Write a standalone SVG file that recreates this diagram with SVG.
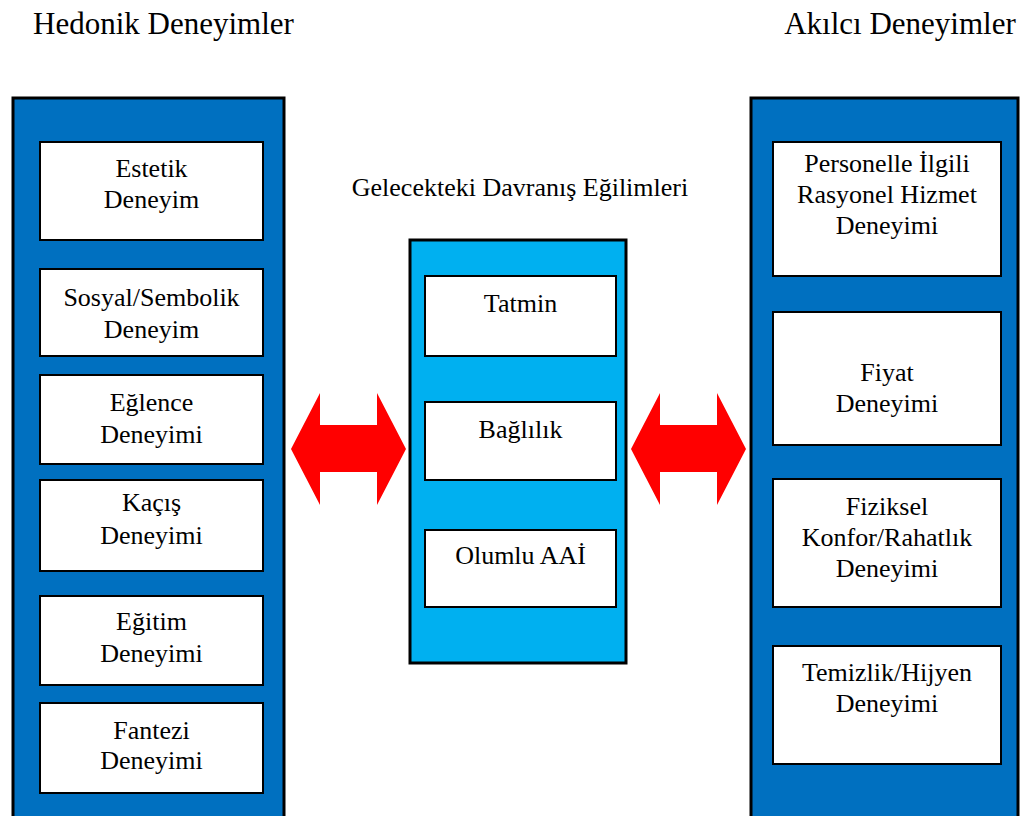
<svg xmlns="http://www.w3.org/2000/svg" width="1027" height="816" viewBox="0 0 1027 816">
  <style>
    text { font-family: 'Liberation Serif', 'DejaVu Serif', 'Times New Roman', serif; fill: #000; text-anchor: middle; }
    .title { font-size: 31px; }
    .label { font-size: 26px; }
    .panel-dark { fill: #0070C0; stroke: #000; stroke-width: 3; }
    .panel-light { fill: #00B0F0; stroke: #000; stroke-width: 3; }
    .box { fill: #fff; stroke: #000; stroke-width: 2; }
    .arrow { fill: #FF0000; stroke: none; }
  </style>
  <rect width="1027" height="816" fill="#fff"/>

  <!-- headings -->
  <text class="title" x="163.5" y="34">Hedonik Deneyimler</text>
  <text class="title" x="900" y="34">Akılcı Deneyimler</text>
  <text class="label" x="520" y="196">Gelecekteki Davranış Eğilimleri</text>

  <!-- hedonic column -->
  <g id="hedonik">
    <rect class="panel-dark" x="13" y="98" width="271" height="730"/>
    <g id="estetik">
      <rect class="box" x="40" y="142" width="223" height="98"/>
      <text class="label" x="151.5" y="177">Estetik</text>
      <text class="label" x="151.5" y="208">Deneyim</text>
    </g>
    <g id="sosyal">
      <rect class="box" x="40" y="269" width="223" height="87"/>
      <text class="label" x="151.5" y="306">Sosyal/Sembolik</text>
      <text class="label" x="151.5" y="338">Deneyim</text>
    </g>
    <g id="eglence">
      <rect class="box" x="40" y="375" width="223" height="89"/>
      <text class="label" x="151.5" y="411">Eğlence</text>
      <text class="label" x="151.5" y="443">Deneyimi</text>
    </g>
    <g id="kacis">
      <rect class="box" x="40" y="480" width="223" height="91"/>
      <text class="label" x="151.5" y="511">Kaçış</text>
      <text class="label" x="151.5" y="544">Deneyimi</text>
    </g>
    <g id="egitim">
      <rect class="box" x="40" y="596" width="223" height="89"/>
      <text class="label" x="151.5" y="630">Eğitim</text>
      <text class="label" x="151.5" y="662">Deneyimi</text>
    </g>
    <g id="fantezi">
      <rect class="box" x="40" y="703" width="223" height="90"/>
      <text class="label" x="151.5" y="739">Fantezi</text>
      <text class="label" x="151.5" y="769">Deneyimi</text>
    </g>
  </g>

  <!-- behavioural intentions column -->
  <g id="egilimler">
    <rect class="panel-light" x="410" y="240" width="216" height="423"/>
    <g id="tatmin">
      <rect class="box" x="425" y="276" width="191" height="80"/>
      <text class="label" x="520.5" y="312">Tatmin</text>
    </g>
    <g id="baglilik">
      <rect class="box" x="425" y="402" width="191" height="78"/>
      <text class="label" x="520.5" y="438">Bağlılık</text>
    </g>
    <g id="olumlu">
      <rect class="box" x="425" y="530" width="191" height="77"/>
      <text class="label" x="520.5" y="564">Olumlu AAİ</text>
    </g>
  </g>

  <!-- rational column -->
  <g id="akilci">
    <rect class="panel-dark" x="751" y="98" width="267" height="730"/>
    <g id="personel">
      <rect class="box" x="773" y="142" width="228" height="134"/>
      <text class="label" x="887" y="172">Personelle İlgili</text>
      <text class="label" x="887" y="203">Rasyonel Hizmet</text>
      <text class="label" x="887" y="234">Deneyimi</text>
    </g>
    <g id="fiyat">
      <rect class="box" x="773" y="312" width="228" height="133"/>
      <text class="label" x="887" y="381">Fiyat</text>
      <text class="label" x="887" y="412">Deneyimi</text>
    </g>
    <g id="fiziksel">
      <rect class="box" x="773" y="479" width="228" height="128"/>
      <text class="label" x="887" y="515">Fiziksel</text>
      <text class="label" x="887" y="546">Konfor/Rahatlık</text>
      <text class="label" x="887" y="577">Deneyimi</text>
    </g>
    <g id="temizlik">
      <rect class="box" x="773" y="646" width="228" height="118"/>
      <text class="label" x="887" y="681">Temizlik/Hijyen</text>
      <text class="label" x="887" y="712">Deneyimi</text>
    </g>
  </g>

  <!-- two-way links between columns -->
  <g id="connectors">
    <polygon class="arrow" points="291,449 320,393 320,425 377,425 377,393 406,449 377,505 377,472 320,472 320,505"/>
    <polygon class="arrow" points="631,449 660,393 660,425 717,425 717,393 746,449 717,505 717,472 660,472 660,505"/>
  </g>
</svg>
